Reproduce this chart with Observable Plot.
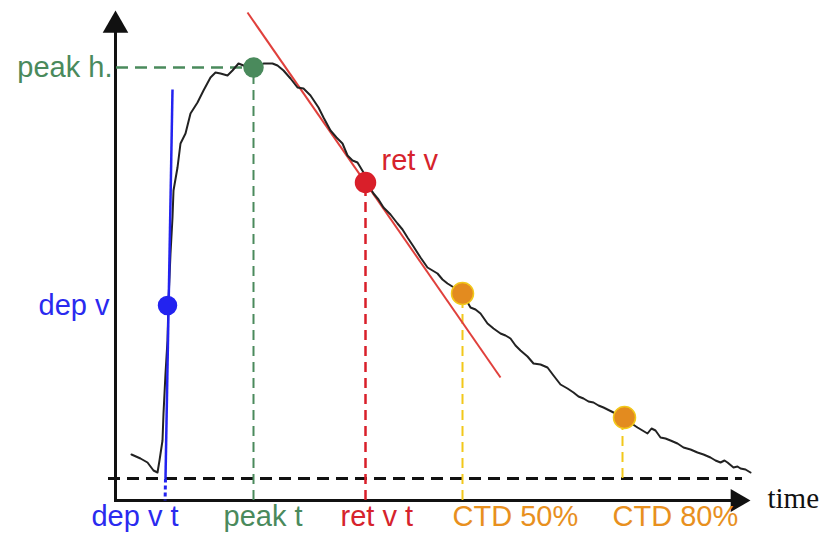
<!DOCTYPE html>
<html>
<head>
<meta charset="utf-8">
<script src="https://cdn.jsdelivr.net/npm/d3@7"></script>
<script src="https://cdn.jsdelivr.net/npm/@observablehq/plot@0.6"></script>
<style>
  html, body { margin: 0; padding: 0; background: #fff; }
  #chart svg { display: block; }
</style>
</head>
<body>
<div id="chart"></div>
<script>
// ---- Data (time in arbitrary ms units, signal in arbitrary units) ----
const curveTime = [16,25,32,38,42,44,47,48,50,52,53,55,57,58,62,65,70,75,82,88,95,100,105,112,117,123,128,133,138,143,148,157,162,168,175,182,188,195,203,208,215,221,227,232,237,242,248,250,258,263,268,275,282,287,292,298,305,312,317,322,327,332,340,347,355,360,365,372,378,385,390,395,400,405,412,418,425,432,438,445,452,458,463,468,473,478,483,488,494,500,510,516,522,527,532,536,540,545,550,555,562,568,575,582,588,595,600,605,609,612,618,622,625,630,635];
const curveValue = [46,42,38,30,28,40,60,87,127,160,200,247,283,310,333,357,367,387,398,410,423,428,427,425,430,437,435,433,435,434,437,437,435,430,422,413,412,405,393,383,370,363,357,345,340,338,328,320,307,301,293,286,277,271,263,254,243,233,230,227,221,217,212,207,193,191,187,177,172,167,165,162,155,150,144,137,136,133,125,116,112,108,104,102,99,98,95,93,90,87,83,77,73,70,67,72,70,63,62,60,57,53,51,48,46,43,40,38,40,38,33,34,32,31,28];

const baselineValue = 22;
const axisTimeEnd = 635;   // tip of time arrow
const axisValueEnd = 490;  // tip of value arrow

// event markers
const eventNames  = ["dep v", "peak", "ret v", "CTD 50%", "CTD 80%"];
const eventTime   = [52, 138, 250, 347, 509];
const eventValue  = [195, 433, 318, 207, 83];
const eventColors = ["#2323f0", "#4a8a5c", "#d91f2a", "#e38b1f", "#e38b1f"];
const eventRadius = [9, 9.5, 10, 11, 11];

// tangent lines (start/end in data units)
const depTangent = {t1: 57, v1: 411, t2: 50, v2: 22, t3: 49.6, v3: 0};
const retTangent = {t1: 132, v1: 488, t2: 385, v2: 123};

// labels
const endLabels = ["peak h.", "dep v", "dep v t"];
const endLabelTime = [-3, -6, 63];
const endLabelValue = [433, 195, -16];
const endLabelColor = ["#4a8a5c", "#2a2aef", "#2a2aef"];

const startLabels = ["ret v", "peak t", "ret v t", "CTD 50%", "CTD 80%"];
const startLabelTime = [266, 108, 225, 337, 497];
const startLabelValue = [340, -16, -16, -16, -16];
const startLabelColor = ["#d6232c", "#4a8a5c", "#d6232c", "#e8901e", "#e8901e"];

// ---- Build tables ----
const curve = curveTime.map((t, i) => ({t, v: curveValue[i]}));
const events = eventNames.map((name, i) => ({name, t: eventTime[i], v: eventValue[i], color: eventColors[i], r: eventRadius[i]}));
const endL = endLabels.map((s, i) => ({s, t: endLabelTime[i], v: endLabelValue[i], c: endLabelColor[i]}));
const startL = startLabels.map((s, i) => ({s, t: startLabelTime[i], v: startLabelValue[i], c: startLabelColor[i]}));

const font = "'Liberation Sans', Arial, sans-serif";
const green = eventColors[1], red = eventColors[2], yellow = "#f2c81a";

const chart = Plot.plot({
  width: 827,
  height: 536,
  margin: 0,
  x: {domain: [-115, 712], axis: null},
  y: {domain: [-36, 500], axis: null},
  color: {type: "identity"},
  style: {background: "#fff", overflow: "visible"},
  marks: [
    // axes
    Plot.ruleX([0], {y1: 0, y2: axisValueEnd - 20, stroke: "#111", strokeWidth: 3}),
    Plot.ruleY([0], {x1: -1, x2: axisTimeEnd - 15, stroke: "#111", strokeWidth: 3}),
    Plot.dot([{t: 0, v: axisValueEnd}], {x: "t", y: "v", symbol: "triangle", r: 9.5, fill: "#111", dy: 14.8}),
    Plot.dot([{t: axisTimeEnd, v: 0}], {x: "t", y: "v", symbol: "triangle", r: 8.5, rotate: 90, fill: "#111", dx: -13.2}),
    // baseline
    Plot.ruleY([baselineValue], {x1: -7, x2: 627, stroke: "#111", strokeWidth: 3, strokeDasharray: "12,7"}),
    // peak height guide
    Plot.ruleY([eventValue[1]], {x1: 1, x2: eventTime[1], stroke: green, strokeWidth: 2.5, strokeDasharray: "12,7"}),
    // vertical guides
    Plot.ruleX([eventTime[1]], {y1: 0, y2: eventValue[1], stroke: green, strokeWidth: 2, strokeDasharray: "10,6"}),
    Plot.ruleX([eventTime[2]], {y1: 0, y2: eventValue[2], stroke: red, strokeWidth: 2.5, strokeDasharray: "10,6"}),
    Plot.ruleX([eventTime[3]], {y1: 0, y2: eventValue[3], stroke: yellow, strokeWidth: 2, strokeDasharray: "10,6"}),
    Plot.ruleX([eventTime[4] - 2], {y1: baselineValue, y2: eventValue[4], stroke: yellow, strokeWidth: 2, strokeDasharray: "10,6"}),
    // return-velocity tangent
    Plot.link([retTangent], {x1: "t1", y1: "v1", x2: "t2", y2: "v2", stroke: "#e0403c", strokeWidth: 2}),
    // signal
    Plot.line(curve, {x: "t", y: "v", stroke: "#222", strokeWidth: 2, curve: "linear"}),
    // depolarisation-velocity tangent
    Plot.link([depTangent], {x1: "t1", y1: "v1", x2: "t2", y2: "v2", stroke: "#2323f0", strokeWidth: 2.5}),
    Plot.link([depTangent], {x1: "t2", y1: "v2", x2: "t3", y2: "v3", stroke: "#2323f0", strokeWidth: 3, strokeDasharray: "4,3"}),
    // event dots (one mark per event so each keeps its own radius)
    ...events.map((e, i) => Plot.dot([e], {x: "t", y: "v", r: e.r, fill: e.color, stroke: i >= 3 ? yellow : e.color, strokeWidth: 1.5})),
    // labels
    Plot.text(endL, {x: "t", y: "v", text: "s", fill: "c", textAnchor: "end", fontSize: 29, fontFamily: font}),
    Plot.text(startL, {x: "t", y: "v", text: "s", fill: "c", textAnchor: "start", fontSize: 29, fontFamily: font}),
    Plot.text([{s: "time", t: 652, v: 2}], {x: "t", y: "v", text: "s", fill: "#111", textAnchor: "start", fontSize: 29, fontFamily: "'Liberation Serif', 'Times New Roman', serif"})
  ]
});
chart.setAttribute("style", (chart.getAttribute("style") || "") + ";overflow:visible");
document.getElementById("chart").appendChild(chart);
</script>
</body>
</html>
